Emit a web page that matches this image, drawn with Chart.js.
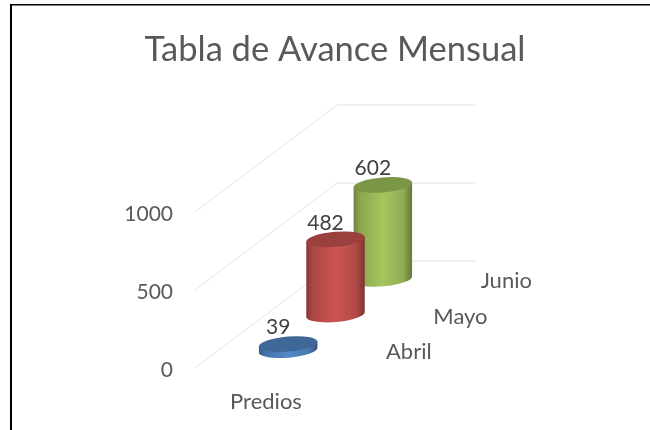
<!DOCTYPE html>
<html><head><meta charset="utf-8">
<style>html,body{margin:0;padding:0;background:#fff}canvas{display:block}</style>
<script src="https://cdn.jsdelivr.net/npm/chart.js@4"></script>
</head><body><canvas id="c" width="650" height="430"></canvas>
<script>
const titleText = 'Tabla de Avance Mensual';
const categories = ['Predios'];
const seriesNames = ['Abril', 'Mayo', 'Junio'];
const abril = [39];
const mayo = [482];
const junio = [602];
const seriesColors = ['#4F81BD', '#C0504D', '#9BBB59'];
const yTicks = [0, 500, 1000];

const FONT = 'Lato, "Open Sans", sans-serif';
const DEPTH_SLOPE = 107 / 142;   // oblique projection of the depth axis
const FLOOR_W = 139;             // floor width of the 3D box
const TILT = -0.085;             // perspective tilt of the cylinder ellipses

function shade(hex, f) {
  const n = parseInt(hex.slice(1), 16);
  const c = [n >> 16, (n >> 8) & 255, n & 255].map(v => Math.max(0, Math.min(255, Math.round(v * f))));
  return `rgb(${c[0]},${c[1]},${c[2]})`;
}
function project(chart, x) {
  const a = chart.chartArea;
  return { dx: FLOOR_W / 2, dy: -(x - a.left) * DEPTH_SLOPE };
}

class CylinderController extends Chart.BarController {
  static id = 'cylinder';
  static defaults = Chart.BarController.defaults;
  static overrides = Chart.BarController.overrides;
  draw() {
    const ctx = this._ctx, chart = this.chart;
    this._cachedMeta.data.forEach(el => {
      const { dx, dy } = project(chart, el.x);
      const cx = el.x + dx, top = el.y + dy, base = el.base + dy;
      const rx = el.width * 0.62, ry = 7.5;
      const col = el.options.backgroundColor;
      const ex = rx * Math.cos(TILT), ey = rx * Math.sin(TILT);
      const g = ctx.createLinearGradient(cx - rx, 0, cx + rx, 0);
      g.addColorStop(0, shade(col, 0.7));
      g.addColorStop(0.12, shade(col, 0.9));
      g.addColorStop(0.5, shade(col, 1.06));
      g.addColorStop(0.85, shade(col, 0.92));
      g.addColorStop(1, shade(col, 0.64));
      ctx.save();
      ctx.fillStyle = g;
      ctx.beginPath();
      ctx.moveTo(cx - ex, top - ey);
      ctx.lineTo(cx - ex, base - ey);
      ctx.ellipse(cx, base, rx, ry, TILT, Math.PI, 0, true);
      ctx.lineTo(cx + ex, top + ey);
      ctx.closePath();
      ctx.fill();
      ctx.fillStyle = shade(col, 0.8);
      ctx.beginPath();
      ctx.ellipse(cx, top, rx, ry, TILT, 0, Math.PI * 2);
      ctx.fill();
      ctx.restore();
    });
  }
}
Chart.register(CylinderController);

const box3d = {
  id: 'box3d',
  beforeDatasetsDraw(chart) {
    const ctx = chart.ctx, a = chart.chartArea, y = chart.scales.y;
    const rise = (a.right - a.left) * DEPTH_SLOPE;
    ctx.save();
    ctx.strokeStyle = '#e4e4e4';
    ctx.lineWidth = 1;
    y.ticks.forEach(t => {
      const py = y.getPixelForValue(t.value);
      ctx.beginPath();
      ctx.moveTo(a.left, py);
      ctx.lineTo(a.right, py - rise);
      ctx.lineTo(a.right + FLOOR_W, py - rise);
      ctx.stroke();
    });
    ctx.restore();
    // outer frame of the picture
    ctx.save();
    ctx.fillStyle = '#000';
    ctx.fillRect(10, 4, 2, 426);
    ctx.fillRect(10, 4, 640, 1.5);
    ctx.restore();
  },
  afterDatasetsDraw(chart) {
    const ctx = chart.ctx;
    ctx.save();
    chart.data.datasets.forEach((ds, i) => {
      chart.getDatasetMeta(i).data.forEach((el, j) => {
        const { dx, dy } = project(chart, el.x);
        ctx.font = '21px ' + FONT;
        ctx.fillStyle = '#404040';
        ctx.textAlign = 'center';
        ctx.textBaseline = 'middle';
        ctx.fillText(String(ds.data[j]), el.x + dx - 10, el.y + dy - 16.5);
        ctx.font = '22px ' + FONT;
        ctx.fillStyle = '#595959';
        ctx.textAlign = 'left';
        ctx.fillText(ds.label, el.x + 167.3, el.base + dy + 2);
      });
    });
    ctx.restore();
  }
};

new Chart(document.getElementById('c'), {
  type: 'cylinder',
  data: {
    labels: categories,
    datasets: [
      { label: seriesNames[0], data: abril, backgroundColor: seriesColors[0], clip: false },
      { label: seriesNames[1], data: mayo, backgroundColor: seriesColors[1], clip: false },
      { label: seriesNames[2], data: junio, backgroundColor: seriesColors[2], clip: false }
    ]
  },
  plugins: [box3d],
  options: {
    responsive: false,
    animation: false,
    layout: { padding: { left: 20, right: 0, top: 0, bottom: 0 } },
    datasets: { cylinder: { categoryPercentage: 1, barPercentage: 1 } },
    plugins: {
      legend: { display: false },
      tooltip: { enabled: false },
      title: {
        display: true,
        text: titleText,
        color: '#595959',
        font: { family: FONT, size: 34.5, weight: 'normal', lineHeight: 1.2 },
        padding: { top: 29, bottom: 141.6 }
      }
    },
    scales: {
      x: {
        type: 'category',
        grid: { display: false },
        border: { display: false },
        ticks: { color: '#595959', padding: 13, font: { family: FONT, size: 22 }, maxRotation: 0 },
        afterFit(s) { s.height = 62; }
      },
      y: {
        type: 'linear',
        position: 'left',
        min: 0, max: 1000,
        afterBuildTicks(s) { s.ticks = yTicks.map(v => ({ value: v })); },
        grid: { display: false },
        border: { display: false },
        ticks: { color: '#595959', padding: 14, labelOffset: 2, font: { family: FONT, size: 21 }, callback: v => String(v) },
        afterFit(s) { s.width = 175; }
      },
      depthRoom: {
        type: 'linear',
        position: 'right',
        grid: { display: false },
        border: { display: false },
        ticks: { display: false },
        afterFit(s) { s.width = 313; }
      }
    }
  }
});
</script></body></html>
